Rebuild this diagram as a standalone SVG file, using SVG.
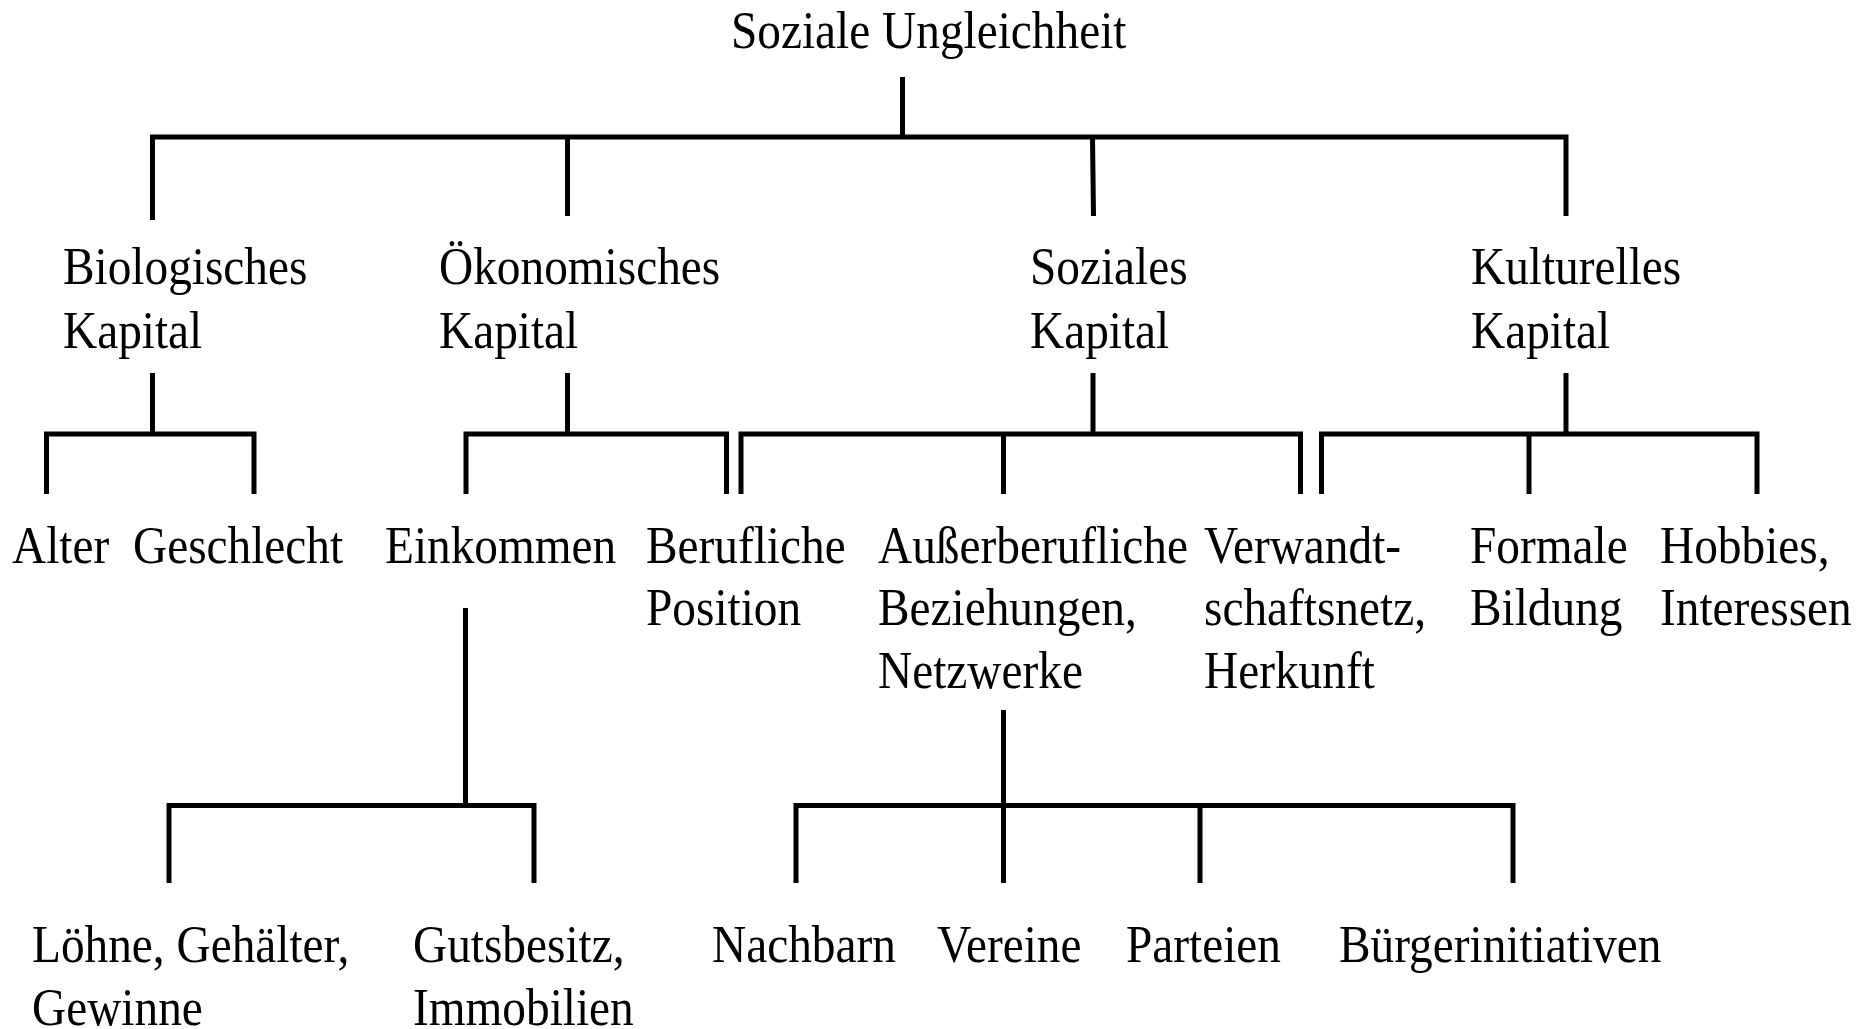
<svg xmlns="http://www.w3.org/2000/svg" width="1860" height="1029" viewBox="0 0 1860 1029">
<style>
.t{font-family:"Liberation Serif","Times New Roman",serif;font-size:52px;fill:#000}
.c{fill:none;stroke:#000;stroke-width:5;stroke-linecap:butt;stroke-linejoin:miter}
</style>
<rect width="1860" height="1029" fill="#fff"/>
<g id="connectors" class="c">
<path d="M902.5,77 V137"/>
<path d="M152.5,220 V137 H1566 V216"/>
<path d="M567.5,137 V216"/>
<path d="M1092.5,137 L1093.5,216"/>
<path d="M152.5,373 V434"/>
<path d="M567.5,373 V434"/>
<path d="M1093,373 V434"/>
<path d="M1566,373 V434"/>
<path d="M46.5,494 V434 H254 V494"/>
<path d="M466,494 V434 H726.5 V494"/>
<path d="M741,494 V434 H1300.5 V494"/>
<path d="M1003.5,434 V494"/>
<path d="M1321.5,494 V434 H1757 V494"/>
<path d="M1529,434 V494"/>
<path d="M465.5,608 V805.5"/>
<path d="M169,883 V805.5 H534 V883"/>
<path d="M1003.5,710 V883"/>
<path d="M796,883 V805.5 H1513 V883"/>
<path d="M1200,805.5 V883"/>
</g>
<g id="n-root"><text class="t" transform="translate(731,48) scale(0.91,1)">Soziale Ungleichheit</text></g>
<g id="n-bio"><text class="t" transform="translate(63,284) scale(0.91,1)"><tspan x="0" y="0">Biologisches</tspan><tspan x="0" dy="64">Kapital</tspan></text></g>
<g id="n-oeko"><text class="t" transform="translate(439,284) scale(0.91,1)"><tspan x="0" y="0">Ökonomisches</tspan><tspan x="0" dy="64">Kapital</tspan></text></g>
<g id="n-soz"><text class="t" transform="translate(1030,284) scale(0.91,1)"><tspan x="0" y="0">Soziales</tspan><tspan x="0" dy="64">Kapital</tspan></text></g>
<g id="n-kult"><text class="t" transform="translate(1471,284) scale(0.91,1)"><tspan x="0" y="0">Kulturelles</tspan><tspan x="0" dy="64">Kapital</tspan></text></g>
<g id="n-alter"><text class="t" transform="translate(12,563) scale(0.91,1)">Alter</text></g>
<g id="n-geschlecht"><text class="t" transform="translate(133,563) scale(0.91,1)">Geschlecht</text></g>
<g id="n-einkommen"><text class="t" transform="translate(385,563) scale(0.91,1)">Einkommen</text></g>
<g id="n-beruf"><text class="t" transform="translate(646,563) scale(0.91,1)"><tspan x="0" y="0">Berufliche</tspan><tspan x="0" dy="62.5">Position</tspan></text></g>
<g id="n-ausser"><text class="t" transform="translate(878,563) scale(0.91,1)"><tspan x="0" y="0">Außerberufliche</tspan><tspan x="0" dy="62.5">Beziehungen,</tspan><tspan x="0" dy="62.5">Netzwerke</tspan></text></g>
<g id="n-verwandt"><text class="t" transform="translate(1204,563) scale(0.91,1)"><tspan x="0" y="0">Verwandt-</tspan><tspan x="0" dy="62.5">schaftsnetz,</tspan><tspan x="0" dy="62.5">Herkunft</tspan></text></g>
<g id="n-formale"><text class="t" transform="translate(1470,563) scale(0.91,1)"><tspan x="0" y="0">Formale</tspan><tspan x="0" dy="62.5">Bildung</tspan></text></g>
<g id="n-hobbies"><text class="t" transform="translate(1660,563) scale(0.91,1)"><tspan x="0" y="0">Hobbies,</tspan><tspan x="0" dy="62.5">Interessen</tspan></text></g>
<g id="n-loehne"><text class="t" transform="translate(32,962) scale(0.91,1)"><tspan x="0" y="0">Löhne, Gehälter,</tspan><tspan x="0" dy="63">Gewinne</tspan></text></g>
<g id="n-guts"><text class="t" transform="translate(413,962) scale(0.91,1)"><tspan x="0" y="0">Gutsbesitz,</tspan><tspan x="0" dy="63">Immobilien</tspan></text></g>
<g id="n-nachbarn"><text class="t" transform="translate(712,962) scale(0.91,1)">Nachbarn</text></g>
<g id="n-vereine"><text class="t" transform="translate(937,962) scale(0.91,1)">Vereine</text></g>
<g id="n-parteien"><text class="t" transform="translate(1126,962) scale(0.91,1)">Parteien</text></g>
<g id="n-buerger"><text class="t" transform="translate(1339,962) scale(0.91,1)">Bürgerinitiativen</text></g>
</svg>
